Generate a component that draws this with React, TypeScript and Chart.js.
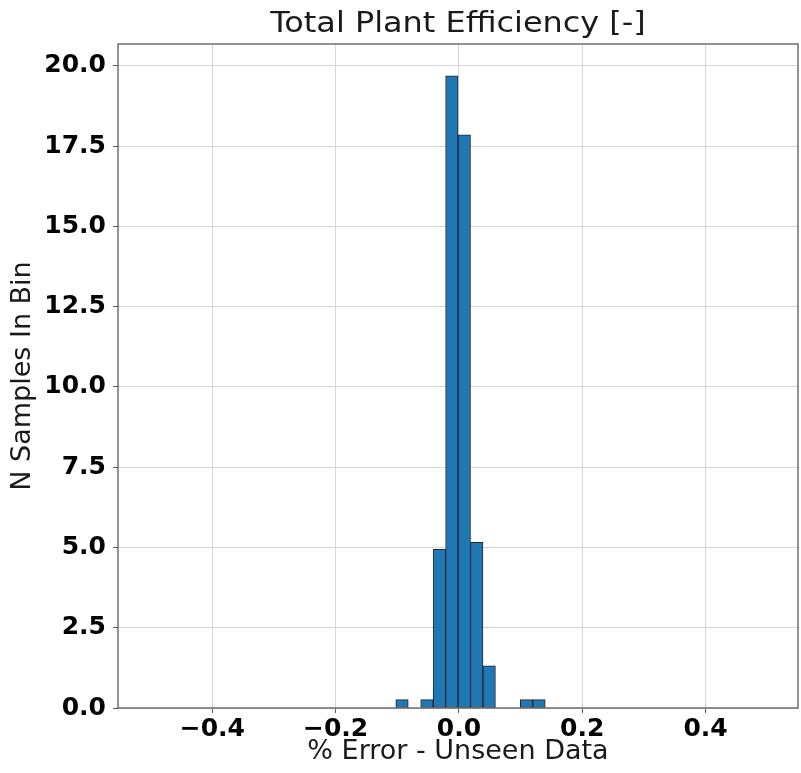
import React, { useEffect, useRef } from "react";
import { Chart, registerables } from "chart.js";

Chart.register(...registerables);

// Histogram data (density per bin)
const binCenters = [-0.0923, -0.0721, -0.0519, -0.0317, -0.0115, 0.0087, 0.0289, 0.0491, 0.0693, 0.0895, 0.1097, 0.1299];
const binDensity = [0.26, 0, 0.26, 4.94, 19.69, 17.85, 5.16, 1.31, 0, 0, 0.26, 0.26];

const xTicks = [-0.4, -0.2, 0.0, 0.2, 0.4];
const yTicks = [0, 2.5, 5, 7.5, 10, 12.5, 15, 17.5, 20];
const xLimits = [-0.553, 0.55];
const yLimits = [0, 20.68];

const titleText = "Total Plant Efficiency [-]";
const xLabel = "% Error - Unseen Data";
const yLabel = "N Samples In Bin";

const FONT = "'DejaVu Sans', sans-serif";

const fmt = (v: number) => {
  const s = Math.abs(v) < 1e-9 ? "0.0" : v.toFixed(1);
  return s.replace("-", "\u2212");
};

export default function App() {
  const ref = useRef<HTMLCanvasElement | null>(null);

  useEffect(() => {
    if (!ref.current) return;
    const framePlugin = {
      id: "frameAndTitle",
      afterDatasetsDraw(chart: any) {
        const { ctx, chartArea } = chart;
        ctx.save();
        ctx.strokeStyle = "#5a5a5a";
        ctx.lineWidth = 1.3;
        ctx.strokeRect(chartArea.left, chartArea.top, chartArea.right - chartArea.left, chartArea.bottom - chartArea.top);
        ctx.restore();
      },
      afterDraw(chart: any) {
        const { ctx, chartArea } = chart;
        const cx = (chartArea.left + chartArea.right) / 2;
        ctx.save();
        ctx.fillStyle = "#1a1a1a";
        ctx.font = `28px ${FONT}`;
        ctx.textAlign = "center";
        ctx.textBaseline = "alphabetic";
        ctx.translate(cx, 32);
        ctx.scale(1.14, 1);
        ctx.fillText(titleText, 0, 0);
        ctx.restore();
      },
    };

    const chart = new Chart(ref.current, {
      type: "bar",
      data: {
        datasets: [
          {
            data: binCenters.map((x, i) => ({ x, y: binDensity[i] })),
            backgroundColor: "#1f77b4",
            borderColor: "rgba(15,15,25,0.9)",
            borderWidth: 1,
            borderSkipped: false,
            barPercentage: 1,
            categoryPercentage: 1,
            grouped: false,
          } as any,
        ],
      },
      options: {
        responsive: false,
        animation: false,
        layout: { padding: { left: 0, top: 44, right: 3, bottom: 0 } },
        plugins: {
          legend: { display: false },
          tooltip: { enabled: false },
          title: { display: false },
        },
        scales: {
          x: {
            type: "linear",
            min: xLimits[0],
            max: xLimits[1],
            offset: false,
            afterBuildTicks: (s: any) => {
              s.ticks = xTicks.map((v) => ({ value: v }));
            },
            afterFit: (s: any) => {
              s.height = 65;
            },
            grid: {
              offset: false,
              color: "#d6d6d6",
              lineWidth: 1,
              drawTicks: true,
              tickLength: 5,
              tickColor: "#5a5a5a",
              tickWidth: 1,
            },
            border: { display: false },
            ticks: {
              autoSkip: false,
              maxRotation: 0,
              padding: 4,
              color: "#000",
              font: { family: FONT, size: 25, weight: "bold", lineHeight: 1 },
              callback: (v: any) => fmt(Number(v)),
            },
            title: {
              display: true,
              text: xLabel,
              color: "#1a1a1a",
              font: { family: FONT, size: 27 },
              padding: { top: 0, bottom: 5 },
            },
          },
          y: {
            type: "linear",
            min: yLimits[0],
            max: yLimits[1],
            afterBuildTicks: (s: any) => {
              s.ticks = yTicks.map((v) => ({ value: v }));
            },
            afterFit: (s: any) => {
              s.width = 118;
            },
            grid: {
              color: "#d6d6d6",
              lineWidth: 1,
              drawTicks: true,
              tickLength: 5,
              tickColor: "#5a5a5a",
              tickWidth: 1,
            },
            border: { display: false },
            ticks: {
              autoSkip: false,
              padding: 7,
              color: "#000",
              font: { family: FONT, size: 25, weight: "bold" },
              callback: (v: any) => fmt(Number(v)),
            },
            title: {
              display: true,
              text: yLabel,
              color: "#1a1a1a",
              font: { family: FONT, size: 27 },
              padding: { top: 7, bottom: 0 },
            },
          },
        },
      },
      plugins: [framePlugin],
    } as any);

    return () => chart.destroy();
  }, []);

  return (
    <div style={{ position: "fixed", left: 0, top: 0, width: 801, height: 773, background: "#fff" }}>
      <canvas ref={ref} width={801} height={773} style={{ display: "block" }} />
    </div>
  );
}
